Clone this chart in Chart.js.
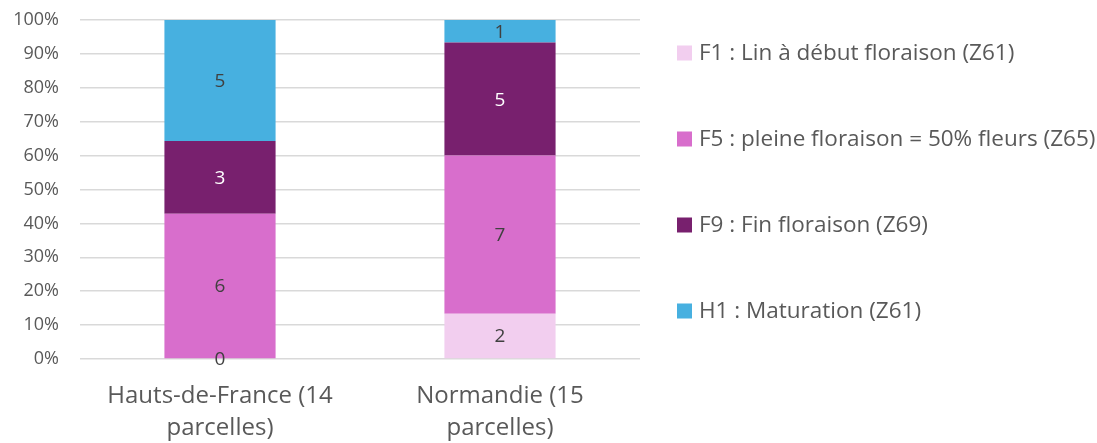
<!DOCTYPE html>
<html>
<head>
<meta charset="utf-8">
<script src="https://cdn.jsdelivr.net/npm/chart.js@4/dist/chart.umd.min.js"></script>
<style>
  html, body { margin: 0; padding: 0; background: #fff; }
  #wrap { width: 1097px; height: 443px; position: relative; }
</style>
</head>
<body>
<div id="wrap"><canvas id="c" width="1097" height="443"></canvas></div>
<script>
// ---- Data ----
const categories = [["Hauts-de-France (14", "parcelles)"], ["Normandie (15", "parcelles)"]];
const seriesNames = [
  "F1 : Lin à début floraison (Z61)",
  "F5 : pleine floraison = 50% fleurs (Z65)",
  "F9 : Fin floraison (Z69)",
  "H1 : Maturation (Z61)"
];
const f1Counts = [0, 2];
const f5Counts = [6, 7];
const f9Counts = [3, 5];
const h1Counts = [5, 1];
const yTicks = [0, 10, 20, 30, 40, 50, 60, 70, 80, 90, 100];

const allCounts = [f1Counts, f5Counts, f9Counts, h1Counts];
const totals = categories.map((_, i) => allCounts.reduce((s, a) => s + a[i], 0));
const pct = arr => arr.map((v, i) => v / totals[i] * 100);

const colors = ["#F2CEEF", "#D86ECC", "#78206E", "#47B0E0"];
const labelColors = ["#404040", "#404040", "#FFFFFF", "#404040"];
const FONT = "'Open Sans', sans-serif";
const TEXT = "#595959";

const labelPlugin = {
  id: 'segLabels',
  afterDatasetsDraw(chart) {
    const ctx = chart.ctx;
    ctx.save();
    ctx.font = "19px " + FONT;
    ctx.textAlign = 'center';
    ctx.textBaseline = 'middle';
    chart.data.datasets.forEach((ds, di) => {
      const meta = chart.getDatasetMeta(di);
      meta.data.forEach((el, i) => {
        const p = el.getProps(['x', 'y', 'base'], true);
        ctx.fillStyle = labelColors[di];
        ctx.fillText(String(ds.counts[i]), p.x, (p.y + p.base) / 2 + 1);
      });
    });
    ctx.restore();
  }
};

const legendPlugin = {
  id: 'sideLegend',
  afterDraw(chart) {
    const ctx = chart.ctx;
    ctx.save();
    ctx.font = "22.5px " + FONT;
    ctx.textBaseline = 'middle';
    ctx.textAlign = 'left';
    chart.data.datasets.forEach((ds, di) => {
      const yc = 53 + di * 86;
      ctx.fillStyle = ds.backgroundColor;
      ctx.fillRect(677, yc - 7.5, 15, 15);
      ctx.fillStyle = TEXT;
      ctx.fillText(ds.label, 699, yc + 1);
    });
    ctx.restore();
  }
};

const datasets = allCounts.map((cnt, di) => ({
  label: seriesNames[di],
  data: pct(cnt),
  counts: cnt,
  backgroundColor: colors[di],
  borderWidth: 0,
  categoryPercentage: 1.0,
  barPercentage: 0.397
}));

new Chart(document.getElementById('c'), {
  type: 'bar',
  data: { labels: categories, datasets },
  plugins: [labelPlugin, legendPlugin],
  options: {
    responsive: false,
    animation: false,
    devicePixelRatio: 1,
    layout: { padding: { top: 20, right: 457, left: 0, bottom: 0 } },
    plugins: { legend: { display: false }, tooltip: { enabled: false } },
    scales: {
      x: {
        stacked: true,
        grid: { display: false, drawTicks: false },
        border: { display: false },
        ticks: { color: TEXT, font: { family: FONT, size: 24, lineHeight: 1.333 }, padding: 21, maxRotation: 0, autoSkip: false },
        afterFit(s) { s.height = 84; s.paddingLeft = 0; s.paddingRight = 0; }
      },
      y: {
        stacked: true,
        min: 0, max: 100,
        afterBuildTicks(s) { s.ticks = yTicks.map(v => ({ value: v })); },
        grid: { color: "#D9D9D9", lineWidth: 1.5, drawTicks: false },
        border: { display: false },
        ticks: { color: TEXT, font: { family: FONT, size: 18 }, padding: 21, callback: v => v + '%' },
        afterFit(s) { s.width = 80; s.paddingTop = 0; s.paddingBottom = 0; }
      }
    }
  }
});
</script>
</body>
</html>
